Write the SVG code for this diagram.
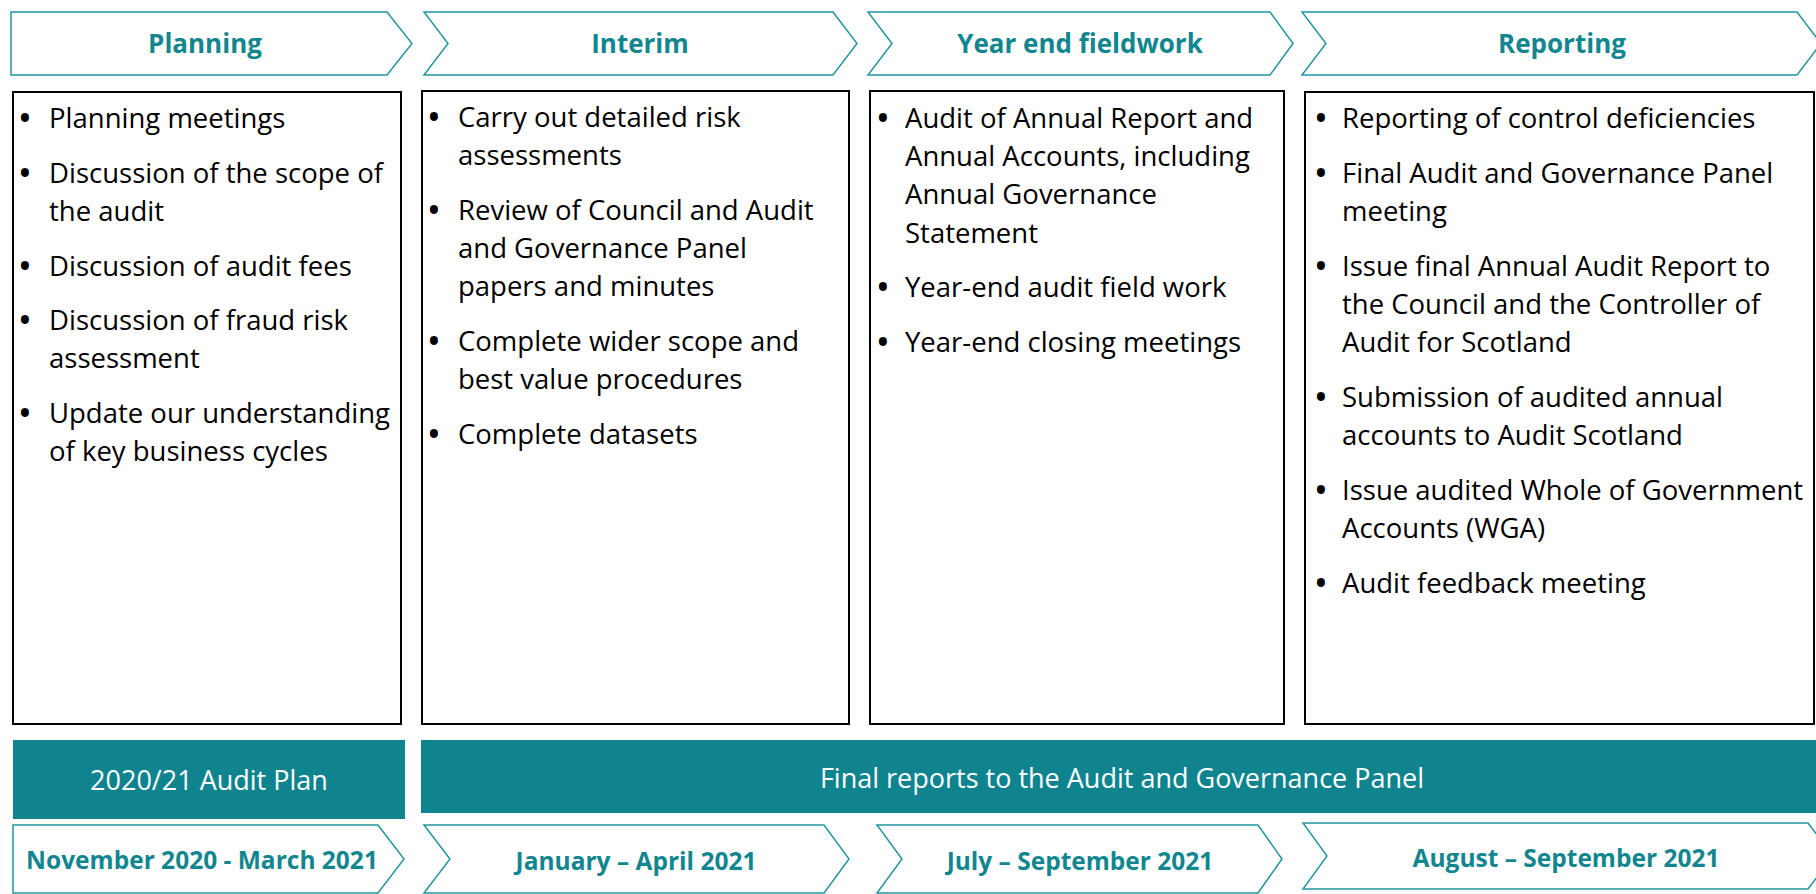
<svg xmlns="http://www.w3.org/2000/svg" width="1816" height="894" viewBox="0 0 1816 894">
<style>
.chev{fill:#ffffff;stroke:#2395a0;stroke-width:1.5;stroke-linejoin:miter}
.box{fill:#ffffff;stroke:#000000;stroke-width:2}
.bar{fill:#0f848f}
.hd{font-family:"Open Sans","Liberation Sans",sans-serif;font-weight:bold;font-size:26px;fill:#12868f;text-anchor:middle}
.dt{font-family:"Open Sans","Liberation Sans",sans-serif;font-weight:bold;font-size:24.5px;fill:#12868f;text-anchor:middle}
.bt{font-family:"Open Sans","Liberation Sans",sans-serif;font-size:27px;fill:#ffffff;text-anchor:middle}
.tx{font-family:"Open Sans","Liberation Sans",sans-serif;font-size:27.5px;fill:#000000}
.bu{font-family:"Open Sans","Liberation Sans",sans-serif;font-size:38px;fill:#000000;text-anchor:middle}
</style>
<rect width="1816" height="894" fill="#ffffff"/>
<g id="connectors"/>

<g id="hdr-planning">
<path class="chev" d="M11,12 H387 L412,43.5 L387,75 H11 Z"/>
<text class="hd" x="205" y="53">Planning</text>
</g>
<g id="hdr-interim">
<path class="chev" d="M424,12 H833 L857,43.5 L833,75 H424 L448,43.5 Z"/>
<text class="hd" x="640" y="53">Interim</text>
</g>
<g id="hdr-yearend">
<path class="chev" d="M868,12 H1270 L1293,43.5 L1270,75 H868 L892,43.5 Z"/>
<text class="hd" x="1080" y="53">Year end fieldwork</text>
</g>
<g id="hdr-reporting">
<path class="chev" d="M1302,12 H1797 L1821,43.5 L1797,75 H1302 L1326,43.5 Z"/>
<text class="hd" x="1562" y="53">Reporting</text>
</g>

<g id="box-planning">
<rect class="box" x="13" y="92" width="388" height="632"/>
<text class="bu" x="25" y="132">•</text><text class="tx" x="49" y="128">Planning meetings</text>
<text class="bu" x="25" y="187">•</text><text class="tx" x="49" y="183">Discussion of the scope of</text>
<text class="tx" x="49" y="221">the audit</text>
<text class="bu" x="25" y="280">•</text><text class="tx" x="49" y="276">Discussion of audit fees</text>
<text class="bu" x="25" y="334">•</text><text class="tx" x="49" y="330">Discussion of fraud risk</text>
<text class="tx" x="49" y="368">assessment</text>
<text class="bu" x="25" y="427">•</text><text class="tx" x="49" y="423">Update our understanding</text>
<text class="tx" x="49" y="461">of key business cycles</text>
</g>

<g id="box-interim">
<rect class="box" x="422" y="91" width="427" height="633"/>
<text class="bu" x="434" y="131">•</text><text class="tx" x="458" y="127">Carry out detailed risk</text>
<text class="tx" x="458" y="165">assessments</text>
<text class="bu" x="434" y="224">•</text><text class="tx" x="458" y="220">Review of Council and Audit</text>
<text class="tx" x="458" y="258">and Governance Panel</text>
<text class="tx" x="458" y="296">papers and minutes</text>
<text class="bu" x="434" y="355">•</text><text class="tx" x="458" y="351">Complete wider scope and</text>
<text class="tx" x="458" y="389">best value procedures</text>
<text class="bu" x="434" y="448">•</text><text class="tx" x="458" y="444">Complete datasets</text>
</g>

<g id="box-yearend">
<rect class="box" x="870" y="91" width="414" height="633"/>
<text class="bu" x="883" y="132">•</text><text class="tx" x="905" y="128">Audit of Annual Report and</text>
<text class="tx" x="905" y="166">Annual Accounts, including</text>
<text class="tx" x="905" y="204">Annual Governance</text>
<text class="tx" x="905" y="243">Statement</text>
<text class="bu" x="883" y="301">•</text><text class="tx" x="905" y="297">Year-end audit field work</text>
<text class="bu" x="883" y="356">•</text><text class="tx" x="905" y="352">Year-end closing meetings</text>
</g>

<g id="box-reporting">
<rect class="box" x="1305" y="92" width="509" height="632"/>
<text class="bu" x="1321" y="132">•</text><text class="tx" x="1342" y="128">Reporting of control deficiencies</text>
<text class="bu" x="1321" y="187">•</text><text class="tx" x="1342" y="183">Final Audit and Governance Panel</text>
<text class="tx" x="1342" y="221">meeting</text>
<text class="bu" x="1321" y="280">•</text><text class="tx" x="1342" y="276">Issue final Annual Audit Report to</text>
<text class="tx" x="1342" y="314">the Council and the Controller of</text>
<text class="tx" x="1342" y="352">Audit for Scotland</text>
<text class="bu" x="1321" y="411">•</text><text class="tx" x="1342" y="407">Submission of audited annual</text>
<text class="tx" x="1342" y="445">accounts to Audit Scotland</text>
<text class="bu" x="1321" y="504">•</text><text class="tx" x="1342" y="500">Issue audited Whole of Government</text>
<text class="tx" x="1342" y="538">Accounts (WGA)</text>
<text class="bu" x="1321" y="597">•</text><text class="tx" x="1342" y="593">Audit feedback meeting</text>
</g>

<g id="bar-auditplan">
<rect class="bar" x="13" y="740" width="392" height="79"/>
<text class="bt" x="209" y="790">2020/21 Audit Plan</text>
</g>
<g id="bar-finalreports">
<rect class="bar" x="421" y="740" width="1400" height="73"/>
<text class="bt" x="1122" y="788">Final reports to the Audit and Governance Panel</text>
</g>

<g id="date-1">
<path class="chev" d="M13,825 H378 L404,859 L378,893 H13 Z"/>
<text class="dt" x="202" y="869">November 2020 - March 2021</text>
</g>
<g id="date-2">
<path class="chev" d="M424,825 H824 L849,859 L824,893 H424 L450,859 Z"/>
<text class="dt" x="636" y="870">January – April 2021</text>
</g>
<g id="date-3">
<path class="chev" d="M877,825 H1258 L1282,859 L1258,893 H877 L902,859 Z"/>
<text class="dt" x="1080" y="870">July – September 2021</text>
</g>
<g id="date-4">
<path class="chev" d="M1303,823 H1808 L1833,856 L1808,889 H1303 L1327,856 Z"/>
<text class="dt" x="1566" y="867">August – September 2021</text>
</g>
</svg>
